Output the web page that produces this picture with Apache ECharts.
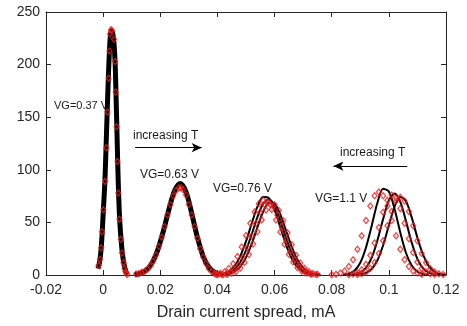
<!DOCTYPE html>
<html>
<head>
<meta charset="utf-8">
<script src="https://cdn.jsdelivr.net/npm/echarts@6/dist/echarts.min.js"></script>
<style>
    html, body { margin: 0; padding: 0; background: #fff; }
    #chart { width: 467px; height: 326px; }
</style>
</head>
<body>
<div id="chart"></div>
<script>
const FONT = "'Liberation Sans', Arial, Helvetica, sans-serif"

const xTicks = [-0.02, 0, 0.02, 0.04, 0.06, 0.08, 0.1, 0.12]
const yTicks = [0, 50, 100, 150, 200, 250]

/* VG=0.37 */
const vg037Fit = [[-0.0018, 6], [-0.0012, 13], [-0.0007, 25], [-0.0003, 42], [0.0001, 63], [0.0006, 88], [0.0010, 120], [0.0014, 154], [0.0018, 186], [0.0022, 213], [0.0026, 229], [0.0030, 232], [0.0034, 229], [0.0038, 220], [0.0042, 201], [0.0045, 172], [0.0048, 140], [0.0051, 107], [0.0054, 78], [0.0058, 52], [0.0063, 33], [0.0068, 19], [0.0074, 9], [0.0080, 3], [0.0086, 0.5]]
const vg037Meas = [[-0.0016, 9], [-0.0011, 15], [-0.0007, 26], [-0.0004, 41], [0.0001, 62], [0.0007, 89], [0.0011, 121], [0.0015, 155], [0.0019, 187], [0.0022, 213], [0.0024, 229], [0.0027, 233], [0.0030, 233], [0.0038, 224], [0.0042, 203], [0.0044, 174], [0.0047, 141], [0.0050, 108], [0.0053, 78], [0.0057, 53], [0.0062, 34], [0.0066, 21], [0.0071, 12], [0.0075, 6], [0.0078, 3], [0.0081, 1.5], [0.0084, 0.5]]

/* VG=0.63 V */
const vg063Fit = [[0.011, 0.4], [0.013, 1.5], [0.015, 4.3], [0.017, 10.9], [0.019, 23], [0.021, 41], [0.023, 62], [0.025, 80], [0.027, 87], [0.029, 79], [0.031, 58.6], [0.033, 35.7], [0.035, 17.8], [0.037, 7.4], [0.039, 2.5], [0.041, 0.7]]
const vg063Meas = [[0.0115, 1], [0.0125, 1.5], [0.0135, 2.5], [0.0145, 3.5], [0.0155, 5.5], [0.0165, 8.5], [0.0175, 13], [0.0185, 19], [0.0195, 27], [0.0205, 36], [0.0215, 46], [0.0225, 57], [0.0235, 67], [0.0245, 75], [0.0255, 80], [0.0265, 83], [0.0272, 83], [0.0280, 81], [0.0290, 76], [0.0300, 67], [0.0310, 57], [0.0320, 46], [0.0330, 35], [0.0340, 25], [0.0350, 17], [0.0360, 11], [0.0370, 6], [0.0380, 3], [0.0390, 1.5], [0.0400, 0.8]]

/* VG=0.76 V */
const vg076FitA = [[0.038, 0.1], [0.040, 0.4], [0.042, 1.3], [0.044, 3.6], [0.046, 8.6], [0.048, 18], [0.050, 31.9], [0.052, 49], [0.054, 64.9], [0.056, 74.1], [0.058, 73], [0.060, 62], [0.062, 45.5], [0.064, 28.9], [0.066, 15.7], [0.068, 7.4], [0.070, 3.0], [0.072, 1.0], [0.074, 0.3]]
const vg076FitB = [[0.040, 0.2], [0.042, 0.7], [0.044, 2.1], [0.046, 5.5], [0.048, 12.3], [0.050, 23.4], [0.052, 38.7], [0.054, 55.1], [0.056, 67.8], [0.058, 71.9], [0.060, 65.8], [0.062, 51.9], [0.064, 35.4], [0.066, 20.7], [0.068, 10.5], [0.070, 4.5], [0.072, 1.7], [0.074, 0.6], [0.076, 0.2]]
const vg076FitC = [[0.042, 0.4], [0.044, 1.2], [0.046, 3.4], [0.048, 8.0], [0.050, 16.7], [0.052, 29.5], [0.054, 45.4], [0.056, 60.1], [0.058, 68.7], [0.060, 67.7], [0.062, 57.5], [0.064, 42.2], [0.066, 26.8], [0.068, 14.5], [0.070, 6.9], [0.072, 2.8], [0.074, 1.0], [0.076, 0.3]]
const vg076MeasA = [[0.0395, 0.7], [0.0410, 1.6], [0.0425, 3.2], [0.0440, 6.1], [0.0455, 10.6], [0.0470, 17.6], [0.0485, 26.6], [0.0500, 37.5], [0.0515, 49.3], [0.0530, 60], [0.0545, 67.7], [0.0560, 71], [0.0575, 69], [0.0590, 62.3], [0.0605, 52.3], [0.0620, 40.8], [0.0635, 29.3], [0.0650, 19.7], [0.0665, 12.4], [0.0680, 7.0], [0.0695, 3.8], [0.0710, 1.9], [0.0725, 0.9]]
const vg076MeasB = [[0.0400, 0.2], [0.0415, 0.5], [0.0430, 1.2], [0.0445, 2.6], [0.0460, 5.2], [0.0475, 9.7], [0.0490, 16.6], [0.0505, 25.9], [0.0520, 37], [0.0535, 49], [0.0550, 59.7], [0.0565, 66.9], [0.0580, 69], [0.0595, 65.3], [0.0610, 57.1], [0.0625, 46], [0.0640, 34], [0.0655, 23], [0.0670, 14.4], [0.0685, 8.3], [0.0700, 4.4], [0.0715, 2.2], [0.0730, 1.0], [0.0745, 0.4]]
const vg076MeasC = [[0.0420, 0.3], [0.0435, 0.7], [0.0450, 1.6], [0.0465, 3.4], [0.0480, 6.7], [0.0495, 11.8], [0.0510, 19.4], [0.0525, 29.4], [0.0540, 41], [0.0555, 52.4], [0.0570, 61.8], [0.0585, 66.9], [0.0600, 66.7], [0.0615, 61.2], [0.0630, 51.7], [0.0645, 40.2], [0.0660, 28.7], [0.0675, 18.8], [0.0690, 11.5], [0.0705, 6.4], [0.0720, 3.2], [0.0735, 1.5], [0.0750, 0.7]]

/* VG=1.1 V */
const vg11FitA = [[0.084, 0.3], [0.086, 1.3], [0.088, 4.3], [0.090, 11.7], [0.092, 26.2], [0.094, 46.9], [0.096, 68.7], [0.098, 81.9], [0.100, 79.4], [0.102, 62.7], [0.104, 40.4], [0.106, 20.9], [0.108, 9.0], [0.110, 3.1], [0.112, 0.9], [0.114, 0.2]]
const vg11FitB = [[0.086, 0.2], [0.088, 0.7], [0.090, 2.4], [0.092, 6.9], [0.094, 16.5], [0.096, 32.9], [0.098, 53.2], [0.100, 70.9], [0.102, 77.5], [0.104, 69.5], [0.106, 51.2], [0.108, 30.8], [0.110, 15.4], [0.112, 6.3], [0.114, 2.1], [0.116, 0.6], [0.118, 0.1]]
const vg11FitC = [[0.088, 0.1], [0.090, 0.6], [0.092, 2.0], [0.094, 5.8], [0.096, 14], [0.098, 28.3], [0.100, 47.1], [0.102, 65], [0.104, 74.2], [0.106, 70.1], [0.108, 54.8], [0.110, 35.4], [0.112, 19.1], [0.114, 8.4], [0.116, 3.1], [0.118, 0.9], [0.120, 0.2]]
const vg11MeasA = [[0.0800, 0.3], [0.0815, 0.7], [0.0830, 1.8], [0.0845, 3.9], [0.0860, 8.0], [0.0875, 14.5], [0.0890, 24.5], [0.0905, 37.4], [0.0920, 51.8], [0.0935, 65.6], [0.0950, 75.4], [0.0965, 79], [0.0980, 75.4], [0.0995, 65.6], [0.1010, 51.8], [0.1025, 37.4], [0.1040, 24.5], [0.1055, 14.5], [0.1070, 8.0], [0.1085, 3.9], [0.1100, 1.8], [0.1115, 0.7]]
const vg11MeasB = [[0.0860, 0.3], [0.0875, 0.9], [0.0890, 2.3], [0.0905, 5.0], [0.0920, 10.3], [0.0935, 18.8], [0.0950, 30.5], [0.0965, 45.2], [0.0980, 59.7], [0.0995, 71], [0.1010, 76], [0.1025, 73.1], [0.1040, 63.1], [0.1055, 49.1], [0.1070, 34.4], [0.1085, 21.5], [0.1100, 12.3], [0.1115, 6.2], [0.1130, 2.8], [0.1145, 1.2], [0.1160, 0.4]]
const vg11MeasC = [[0.0890, 0.5], [0.0905, 1.2], [0.0920, 2.9], [0.0935, 6.1], [0.0950, 11.9], [0.0965, 20.5], [0.0980, 32.6], [0.0995, 46.8], [0.1010, 60.3], [0.1025, 70.3], [0.1040, 74], [0.1055, 70.3], [0.1070, 60.3], [0.1085, 46.8], [0.1100, 32.6], [0.1115, 20.5], [0.1130, 11.9], [0.1145, 6.1], [0.1160, 2.9], [0.1175, 1.2], [0.1190, 0.5]]

const fits = [
    { data: vg037Fit, width: 5 },
    { data: vg063Fit, width: 5 },
    { data: vg076FitA, width: 2 },
    { data: vg076FitB, width: 2 },
    { data: vg076FitC, width: 2 },
    { data: vg11FitA, width: 2 },
    { data: vg11FitB, width: 2 },
    { data: vg11FitC, width: 2 }
]
const measured = [vg037Meas, vg063Meas, vg076MeasA, vg076MeasB, vg076MeasC, vg11MeasA, vg11MeasB, vg11MeasC]

const axisColor = '#262626'

const fitSeries = fits.map(f => ({
    type: 'line',
    data: f.data,
    smooth: 0.3,
    showSymbol: false,
    lineStyle: { color: '#000', width: f.width },
    z: 2
}))

const measSeries = measured.map(d => ({
    type: 'scatter',
    data: d,
    symbol: 'diamond',
    symbolSize: [5, 6],
    itemStyle: { color: 'rgba(0,0,0,0)', borderColor: '#ee1c1c', borderWidth: 1.3 },
    z: 3
}))

// the two "increasing T" arrows
fitSeries[0].markLine = {
    silent: true,
    symbol: ['none', 'arrow'],
    symbolSize: [7, 10],
    label: { show: false },
    lineStyle: { color: '#000', width: 1.2, type: 'solid' },
    data: [
        [{ coord: [0.0112, 121] }, { coord: [0.0345, 121] }],
        [{ coord: [0.1064, 103.5] }, { coord: [0.0806, 103.5] }]
    ]
}

const note = (text, x, y, size) => ({
    type: 'text',
    x: x,
    y: y,
    z: 0,
    style: { text: text, fill: '#1a1a1a', font: size + 'px ' + FONT, verticalAlign: 'middle' }
})

const sideAxis = (extra) => Object.assign({
    type: 'value',
    axisLine: { show: true, onZero: false, lineStyle: { color: axisColor, width: 1 } },
    axisTick: { show: true, inside: true, length: 5, lineStyle: { color: axisColor } },
    splitLine: { show: false }
}, extra)

let chart = echarts.init(document.getElementById('chart'))
chart.setOption({
    animation: false,
    backgroundColor: '#fff',
    textStyle: { fontFamily: FONT },
    grid: { left: 46, right: 21, top: 12, bottom: 50 },
    xAxis: [
        sideAxis({
            position: 'bottom',
            min: xTicks[0], max: xTicks[xTicks.length - 1], interval: 0.02,
            name: 'Drain current spread, mA',
            nameLocation: 'middle',
            nameGap: 30,
            nameTextStyle: { fontSize: 16, color: axisColor, fontFamily: FONT },
            axisLabel: { fontSize: 14, color: axisColor, margin: 8, fontFamily: FONT, formatter: v => String(Number(v.toFixed(2))) }
        }),
        sideAxis({
            position: 'top',
            min: xTicks[0], max: xTicks[xTicks.length - 1], interval: 0.02,
            axisLabel: { show: false }
        })
    ],
    yAxis: [
        sideAxis({
            position: 'left',
            min: yTicks[0], max: yTicks[yTicks.length - 1], interval: 50,
            axisLabel: { fontSize: 14, color: axisColor, margin: 6, fontFamily: FONT }
        }),
        sideAxis({
            position: 'right',
            min: yTicks[0], max: yTicks[yTicks.length - 1], interval: 50,
            axisLabel: { show: false }
        })
    ],
    graphic: [
        note('VG=0.37 V', 54, 106, 11),
        note('increasing T', 133, 136, 12),
        note('VG=0.63 V', 140, 175, 12),
        note('VG=0.76 V', 213, 189, 12),
        note('increasing T', 340, 153, 12),
        note('VG=1.1 V', 315, 199, 12)
    ],
    series: fitSeries.concat(measSeries)
})
</script>
</body>
</html>
